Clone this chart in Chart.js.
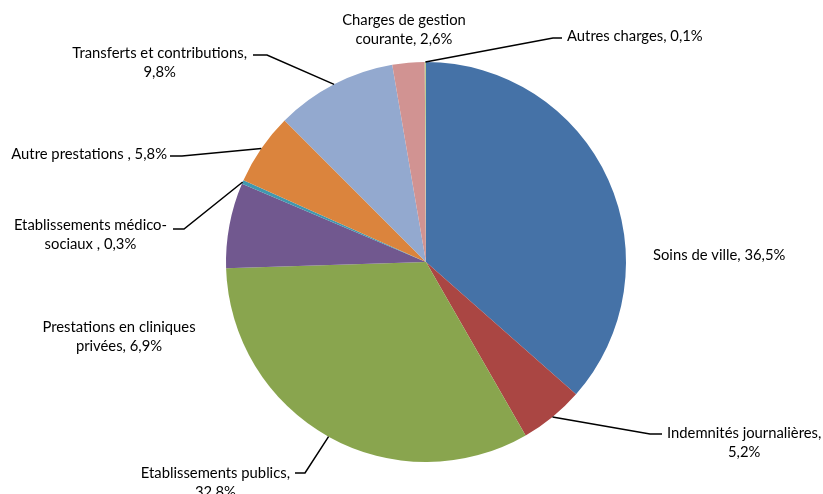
<!DOCTYPE html>
<html>
<head>
<meta charset="utf-8">
<script src="https://cdn.jsdelivr.net/npm/chart.js@4/dist/chart.umd.min.js"></script>
<style>
  html, body { margin: 0; padding: 0; background: #fff; }
  #wrap { width: 823px; height: 494px; }
</style>
</head>
<body>
<div id="wrap"><canvas id="myChart" width="823" height="494"></canvas></div>
<script>
// Data for the chart
const categories = [
    ['Soins de ville, 36,5%'],
    ['Indemnités journalières,', '5,2%'],
    ['Etablissements publics,', '32,8%'],
    ['Prestations en cliniques', 'privées, 6,9%'],
    ['Etablissements médico-', 'sociaux , 0,3%'],
    ['Autre prestations , 5,8%'],
    ['Transferts et contributions,', '9,8%'],
    ['Charges de gestion', 'courante, 2,6%'],
    ['Autres charges, 0,1%']
];
const shares = [36.5, 5.2, 32.8, 6.9, 0.3, 5.8, 9.8, 2.6, 0.1];
const colors = ['#4572A7', '#AA4643', '#89A54E', '#71588F', '#4198AF',
                '#DB843D', '#93A9CF', '#D19392', '#B9CD96'];

// Label placement relative to the pie centre: text anchor, alignment, leader elbow
const labelLayout = [
    { dx: 227, dy: -7, align: 'left' },
    { dx: 241, dy: 171, align: 'left', elbow: [224, 172], end: 236 },
    { dx: -136, dy: 211, align: 'right', elbow: [-121, 211], end: -131 },
    { dx: -307, dy: 65, align: 'center' },
    { dx: -259, dy: -37, align: 'right', elbow: [-242, -33], end: -253 },
    { dx: -259, dy: -108, align: 'right', elbow: [-244, -106], end: -256 },
    { dx: -179, dy: -209, align: 'right', elbow: [-159, -207], end: -173 },
    { dx: -22, dy: -242, align: 'center' },
    { dx: 141, dy: -226, align: 'left', elbow: [127, -224], end: 136 }
];

const FONT = '14.8px Lato, "Noto Sans", sans-serif';
const LINE_H = 19;

// Plugin drawing the labels and leader lines
const pieLabels = {
    id: 'pieLabels',
    afterDraw(chart) {
        const ctx = chart.ctx;
        const arcs = chart.getDatasetMeta(0).data;
        ctx.save();
        ctx.font = FONT;
        ctx.fillStyle = '#000';
        ctx.textBaseline = 'middle';
        arcs.forEach((arc, i) => {
            const lay = labelLayout[i];
            const cx = arc.x, cy = arc.y;
            if (lay.elbow) {
                const mid = (arc.startAngle + arc.endAngle) / 2;
                const sx = cx + Math.cos(mid) * arc.outerRadius;
                const sy = cy + Math.sin(mid) * arc.outerRadius;
                ctx.beginPath();
                ctx.strokeStyle = '#000';
                ctx.lineWidth = 1.5;
                ctx.moveTo(sx, sy);
                ctx.lineTo(cx + lay.elbow[0], cy + lay.elbow[1]);
                ctx.lineTo(cx + lay.end, cy + lay.elbow[1]);
                ctx.stroke();
            }
            const lines = categories[i];
            const w = Math.max(...lines.map(l => ctx.measureText(l).width));
            let centerX;
            if (lay.align === 'left') centerX = cx + lay.dx + w / 2;
            else if (lay.align === 'right') centerX = cx + lay.dx - w / 2;
            else centerX = cx + lay.dx;
            ctx.textAlign = 'center';
            lines.forEach((l, k) => {
                ctx.fillText(l, centerX, cy + lay.dy + k * LINE_H);
            });
        });
        ctx.restore();
    }
};

// Function to initialize the pie chart
function createChart() {
    const ctx = document.getElementById('myChart').getContext('2d');
    new Chart(ctx, {
        type: 'pie',
        data: {
            labels: categories.map(c => c.join(' ')),
            datasets: [{
                data: shares,
                backgroundColor: colors,
                borderWidth: 0
            }]
        },
        options: {
            responsive: false,
            animation: false,
            layout: {
                padding: { left: 226, right: 197, top: 62, bottom: 32 }
            },
            plugins: {
                legend: { display: false },
                tooltip: { enabled: false }
            }
        },
        plugins: [pieLabels]
    });
}

createChart();
</script>
</body>
</html>
